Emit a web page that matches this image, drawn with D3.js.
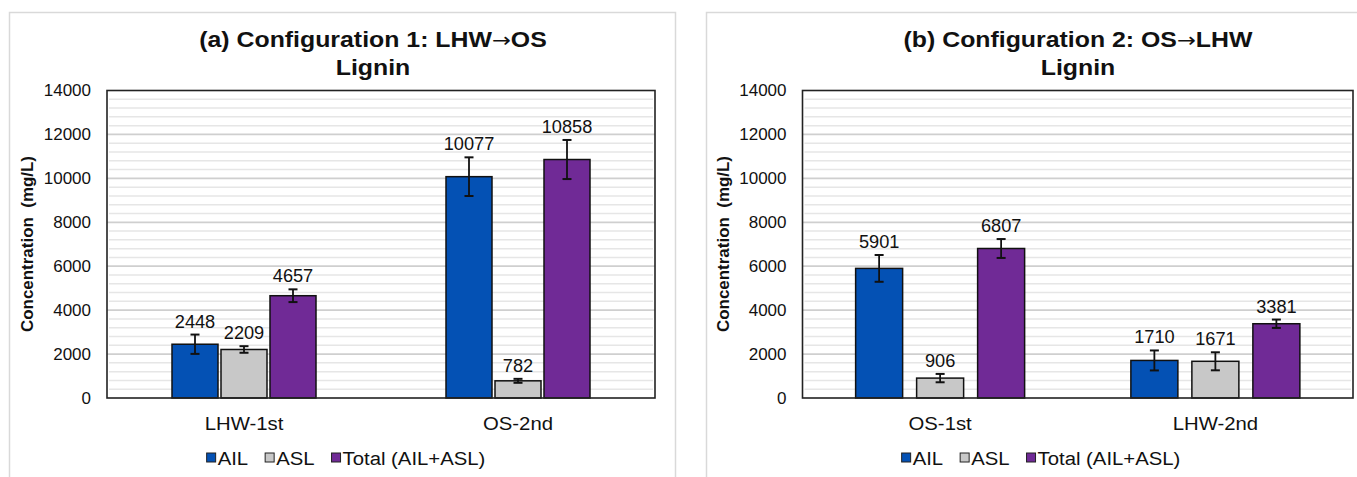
<!DOCTYPE html>
<html><head><meta charset="utf-8">
<script src="https://cdn.jsdelivr.net/npm/d3@7"></script>
<style>
body{margin:0;background:#fff;}
text{font-family:"Liberation Sans",Arial,sans-serif;fill:#111;}
</style></head>
<body>
<svg id="c" width="1357" height="477"></svg>
<script>
// ---- data ----
const series = ["AIL", "ASL", "Total (AIL+ASL)"];
const colors = ["#0451b4", "#c8c8c8", "#702a96"];
const yTicks = [0, 2000, 4000, 6000, 8000, 10000, 12000, 14000];

const titleA = ["(a) Configuration 1: LHW\u2192OS", "Lignin"];
const categoriesA = ["LHW-1st", "OS-2nd"];
const ailA = [2448, 10077];
const aslA = [2209, 782];
const totalA = [4657, 10858];
const ailErrA = [440, 880];
const aslErrA = [150, 90];
const totalErrA = [290, 890];

const titleB = ["(b) Configuration 2: OS\u2192LHW", "Lignin"];
const categoriesB = ["OS-1st", "LHW-2nd"];
const ailB = [5901, 1710];
const aslB = [906, 1671];
const totalB = [6807, 3381];
const ailErrB = [610, 455];
const aslErrB = [190, 410];
const totalErrB = [430, 190];

const yLabel = "Concentration  (mg/L)";

// ---- drawing ----
const svg = d3.select("#c");

function panel(cfg) {
  const g = svg.append("g");
  // panel border
  g.append("rect").attr("x", cfg.px).attr("y", 12.5).attr("width", 666).attr("height", 480)
    .attr("fill", "#fff").attr("stroke", "#d9d9d9").attr("stroke-width", 1.5);

  const y = d3.scaleLinear().domain([0, 14000]).range([398, 90.5]);
  const x0 = d3.scalePoint().domain(cfg.categories).range([cfg.x0, cfg.x1]).padding(0.5);
  const x1 = d3.scaleBand().domain(series).range([-cfg.half, cfg.half]).paddingInner(cfg.pin);

  // minor gridlines
  const minor = d3.range(400, 14000, 400).filter(v => v % 2000 !== 0);
  g.selectAll(".mg").data(minor).enter().append("line")
    .attr("x1", cfg.x0 + 2).attr("x2", cfg.x1 - 2)
    .attr("y1", d => y(d)).attr("y2", d => y(d))
    .attr("stroke", "#e6e6e6").attr("stroke-width", 1.5);
  // major gridlines
  g.selectAll(".Mg").data(yTicks.filter(v => v > 0 && v < 14000)).enter().append("line")
    .attr("x1", cfg.x0).attr("x2", cfg.x1)
    .attr("y1", d => y(d)).attr("y2", d => y(d))
    .attr("stroke", "#cfcfcf").attr("stroke-width", 1.8);

  // y axis labels
  const ax = d3.axisLeft(y).tickValues(yTicks).tickSize(0).tickPadding(16).tickFormat(d3.format("d"));
  const axg = g.append("g").attr("transform", `translate(${cfg.x0},0)`).call(ax);
  axg.select(".domain").remove();
  axg.selectAll("text").style("font-size", "17px").attr("fill", "#111")
    .style("font-family", '"Liberation Sans",Arial,sans-serif');

  // bars
  const rows = cfg.categories.map((c, i) => ({
    cat: c,
    vals: series.map((s, j) => ({ s, j, v: cfg.values[j][i], e: cfg.errors[j][i] }))
  }));
  const grp = g.selectAll(".grp").data(rows).enter().append("g")
    .attr("transform", d => `translate(${x0(d.cat)},0)`);
  grp.selectAll("rect").data(d => d.vals).enter().append("rect")
    .attr("x", d => x1(d.s)).attr("width", x1.bandwidth())
    .attr("y", d => y(d.v)).attr("height", d => y(0) - y(d.v))
    .attr("fill", d => colors[d.j]).attr("stroke", "#111").attr("stroke-width", 1.5);
  // error bars
  const eb = grp.selectAll(".eb").data(d => d.vals).enter().append("g");
  eb.append("line")
    .attr("x1", d => x1(d.s) + x1.bandwidth() / 2).attr("x2", d => x1(d.s) + x1.bandwidth() / 2)
    .attr("y1", d => y(d.v + d.e)).attr("y2", d => y(d.v - d.e))
    .attr("stroke", "#111").attr("stroke-width", 1.8);
  [1, -1].forEach(sg => {
    eb.append("line")
      .attr("x1", d => x1(d.s) + x1.bandwidth() / 2 - 4.5).attr("x2", d => x1(d.s) + x1.bandwidth() / 2 + 4.5)
      .attr("y1", d => y(d.v + sg * d.e)).attr("y2", d => y(d.v + sg * d.e))
      .attr("stroke", "#111").attr("stroke-width", 2);
  });
  // data labels
  grp.selectAll(".dl").data(d => d.vals).enter().append("text")
    .attr("transform", d => `translate(${x1(d.s) + x1.bandwidth() / 2},${y(d.v + d.e) - 7}) scale(1.04,1)`)
    .attr("text-anchor", "middle").style("font-size", "17.5px")
    .text(d => d.v);

  // plot frame
  g.append("rect").attr("x", cfg.x0).attr("y", y(14000)).attr("width", cfg.x1 - cfg.x0)
    .attr("height", y(0) - y(14000)).attr("fill", "none").attr("stroke", "#222").attr("stroke-width", 1.6);

  // category labels
  g.selectAll(".cl").data(cfg.categories).enter().append("text")
    .attr("transform", d => `translate(${x0(d)},430) scale(1.07,1)`).attr("text-anchor", "middle")
    .style("font-size", "19px").text(d => d);

  // y title
  g.append("text").attr("transform", `translate(${cfg.yt},244) rotate(-90) scale(1.06,1)`)
    .attr("text-anchor", "middle").attr("dy", "0.35em")
    .style("font-size", "16px").style("font-weight", "bold").attr("xml:space", "preserve")
    .style("white-space", "pre").text(yLabel);

  // title (arrow drawn with a wider glyph)
  const tt = g.selectAll(".tt").data(cfg.title).enter().append("text")
    .attr("transform", (d, i) => `translate(${cfg.tx},${47 + i * 28}) scale(1.13,1)`).attr("text-anchor", "middle")
    .style("font-size", "22px").style("font-weight", "bold");
  tt.each(function (d) {
    const parts = d.split("\u2192");
    const el = d3.select(this);
    parts.forEach((p, k) => {
      if (k > 0) el.append("tspan").style("font-family", '"DejaVu Sans",sans-serif')
        .style("font-weight", "normal").style("font-size", "20px").text("\u2192");
      el.append("tspan").text(p);
    });
  });

  // legend
  const lsx = 1.07;
  const lg = g.append("g");
  let cx = 0;
  series.forEach((s, j) => {
    const it = lg.append("g").attr("transform", `translate(${cx},0)`);
    it.append("rect").attr("x", 0).attr("y", -5).attr("width", 9).attr("height", 9)
      .attr("fill", colors[j]).attr("stroke", "#222").attr("stroke-width", 1);
    const t = it.append("text").attr("transform", `translate(11,0) scale(${lsx},1)`).attr("dy", "0.35em")
      .style("font-size", "19px").text(s);
    cx += 11 + t.node().getComputedTextLength() * lsx + 17;
  });
  const lw = cx - 17;
  lg.attr("transform", `translate(${cfg.lx - lw / 2},458)`);
}

panel({
  px: 9.5, x0: 107, x1: 655, half: 72, pin: 0.0612, yt: 27, tx: 373, lx: 346,
  categories: categoriesA, title: titleA,
  values: [ailA, aslA, totalA], errors: [ailErrA, aslErrA, totalErrA]
});
panel({
  px: 706.5, x0: 802.5, x1: 1353, half: 84.5, pin: 0.2295, yt: 723, tx: 1078, lx: 1041,
  categories: categoriesB, title: titleB,
  values: [ailB, aslB, totalB], errors: [ailErrB, aslErrB, totalErrB]
});
</script>
</body></html>
